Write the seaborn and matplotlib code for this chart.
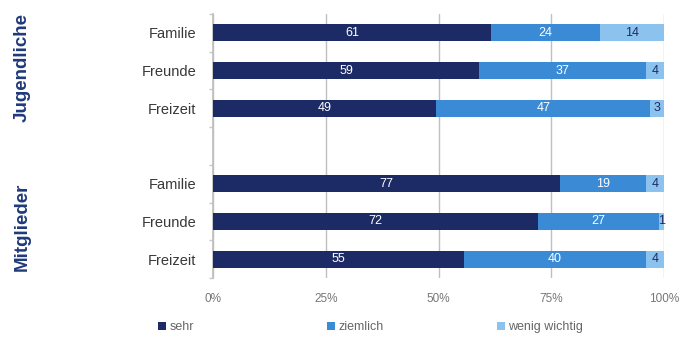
import matplotlib
matplotlib.use("Agg")
import matplotlib.pyplot as plt
from matplotlib.patches import Patch
import numpy as np
import pandas as pd
import seaborn as sns

groups = ["Jugendliche", "Jugendliche", "Jugendliche", "Mitglieder", "Mitglieder", "Mitglieder"]
topics = ["Familie", "Freunde", "Freizeit", "Familie", "Freunde", "Freizeit"]
sehr = [61, 59, 49, 77, 72, 55]
ziemlich = [24, 37, 47, 19, 27, 40]
wenig = [14, 4, 3, 4, 1, 4]
series_names = ["sehr", "ziemlich", "wenig wichtig"]
colors = ["#1c2a66", "#3a8ad6", "#8cc3ee"]
label_colors = ["white", "white", "#1c2a66"]
x_ticks = [0, 25, 50, 75, 100]
x_tick_labels = ["0%", "25%", "50%", "75%", "100%"]

sns.set_theme(style="white")
plt.rcParams["font.family"] = ["Liberation Sans", "DejaVu Sans"]

keys = [f"{g}-{t}" for g, t in zip(groups, topics)]
order = keys[:3] + ["gap"] + keys[3:]
df = pd.DataFrame({"key": keys, "sehr": sehr, "ziemlich": ziemlich, "wenig": wenig})
tot = df[["sehr", "ziemlich", "wenig"]].sum(axis=1)
for c in ["sehr", "ziemlich", "wenig"]:
    df[c + "_pct"] = df[c] / tot * 100
df["c1"] = df["sehr_pct"]
df["c2"] = df["c1"] + df["ziemlich_pct"]
df["c3"] = df["c2"] + df["wenig_pct"]

fig = plt.figure(figsize=(6.86, 3.40), dpi=100)
ax = fig.add_axes([213 / 686, 1 - 278 / 340, 451 / 686, 264 / 340])

for col, color in zip(["c3", "c2", "c1"], colors[::-1]):
    sns.barplot(data=df, x=col, y="key", order=order, orient="h", color=color,
                width=0.45, saturation=1, linewidth=0, ax=ax, zorder=3)

ax.set_xlim(0, 100)
ax.set_ylim(6.5, -0.5)
ax.set_xticks(x_ticks)
ax.set_xticklabels(x_tick_labels, color="#777777", fontsize=8.5)
ax.xaxis.grid(True, color="#bfbfbf", linewidth=1, zorder=0)
ax.set_axisbelow(True)
ax.set_xlabel("")
ax.set_ylabel("")
ytick_pos = [order.index(k) for k in keys]
ax.set_yticks(ytick_pos)
ax.set_yticklabels(topics, color="#383838", fontsize=10.5)
ax.tick_params(axis="y", length=0, pad=12)
ax.tick_params(axis="x", length=0, pad=11)
ax.set_yticks(np.arange(-0.5, 7, 1), minor=True)
ax.tick_params(axis="y", which="minor", length=3, color="#c8c8c8", width=1, left=True)
for s in ["top", "right", "bottom"]:
    ax.spines[s].set_visible(False)
ax.spines["left"].set_color("#bfbfbf")

# value labels centred in each segment
for _, r in df.iterrows():
    y = order.index(r["key"])
    starts = [0, r["c1"], r["c2"]]
    widths = [r["sehr_pct"], r["ziemlich_pct"], r["wenig_pct"]]
    vals = [r["sehr"], r["ziemlich"], r["wenig"]]
    for s, w, v, lc in zip(starts, widths, vals, label_colors):
        ax.text(s + w / 2, y, f"{v}", ha="center", va="center", color=lc,
                fontsize=9, zorder=5)

# group labels
fig.text(22 / 686, 1 - 68 / 340, "Jugendliche", rotation=90, ha="center", va="center",
         fontsize=13.5, fontweight="bold", color="#1f3a7a")
fig.text(22 / 686, 1 - 227 / 340, "Mitglieder", rotation=90, ha="center", va="center",
         fontsize=13.5, fontweight="bold", color="#1f3a7a")

# legend entries spaced evenly along the bottom
legend_x = [147, 316, 486]
for name, c, lx in zip(series_names, colors, legend_x):
    fig.legend([Patch(facecolor=c, edgecolor="none")], [name], loc="center left",
               bbox_to_anchor=(lx / 686, 1 - 327 / 340), frameon=False, fontsize=9,
               handlelength=0.6, handleheight=0.6, handletextpad=0.3,
               labelcolor="#666666")

fig.savefig("out.png", dpi=100)
